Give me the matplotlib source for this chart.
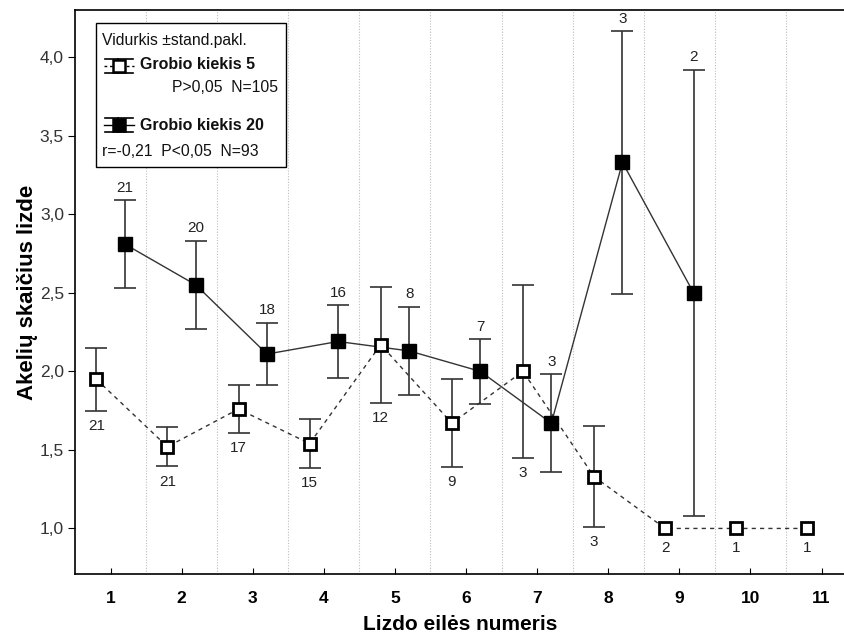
import numpy as np
import matplotlib
matplotlib.use("Agg")
import matplotlib.pyplot as plt
from matplotlib.patches import Rectangle
from matplotlib.lines import Line2D

plt.rcParams["font.family"] = ["Liberation Sans", "DejaVu Sans"]

# nest order numbers
nest = np.arange(1, 12)

# prey amount 5: mean, SD and N per nest position
mean5 = [1.95, 1.52, 1.76, 1.54, 2.17, 1.67, 2.00, 1.33, 1.00, 1.00, 1.00]
sd5 = [0.20, 0.125, 0.15, 0.155, 0.37, 0.28, 0.55, 0.32, 0.0, 0.0, 0.0]
n5 = [21, 21, 17, 15, 12, 9, 3, 3, 2, 1, 1]

# prey amount 20
nest20 = np.arange(1, 10)
mean20 = [2.81, 2.55, 2.11, 2.19, 2.13, 2.00, 1.67, 3.33, 2.50]
sd20 = [0.28, 0.28, 0.20, 0.23, 0.28, 0.205, 0.31, 0.835, 1.42]
n20 = [21, 20, 18, 16, 8, 7, 3, 3, 2]

yticks = [1.0, 1.5, 2.0, 2.5, 3.0, 3.5, 4.0]

W, H = 845, 636
fig = plt.figure(figsize=(W / 100, H / 100), dpi=100)
ax = fig.add_axes([75 / W, 62 / H, 770 / W, 564 / H])

ax.set_xlim(0.5, 11.33)
ax.set_ylim(0.71, 4.30)

for xg in np.arange(1.5, 11, 1.0):
    ax.axvline(xg, color="#bdbdbd", lw=0.8, ls=(0, (1, 1.5)), zorder=0)

ecol = "#333333"
ebar = dict(fmt="none", ecolor=ecol, elinewidth=1.2, capsize=8, capthick=1.2,
            zorder=3.5)
x5 = nest - 0.2
x20 = nest20 + 0.2

# single-nest cells (SD = 0) get no whiskers
m5 = np.array(sd5) > 0
ax.errorbar(x5[m5], np.array(mean5)[m5], yerr=np.array(sd5)[m5], **ebar)
ax.plot(x5, mean5, color="#333333", lw=1, ls=(0, (3, 3)), zorder=3)
ax.plot(x5, mean5, "s", ms=9, mfc="white", mec="black", mew=2, zorder=4)

ax.errorbar(x20, mean20, yerr=sd20, **ebar)
ax.plot(x20, mean20, color="#333333", lw=1, zorder=3)
ax.plot(x20, mean20, "s", ms=9.5, mfc="black", mec="black", mew=1, zorder=4)

# sample sizes: below the open series, above the filled series
for x, m, s, n in zip(x5, mean5, sd5, n5):
    off = -11 if s > 0 else -14
    ax.annotate(str(n), (x, m - s), xytext=(0, off), textcoords="offset points",
                ha="center", va="center", fontsize=11, color="#222222")
for x, m, s, n in zip(x20, mean20, sd20, n20):
    ax.annotate(str(n), (x, m + s), xytext=(0, 9), textcoords="offset points",
                ha="center", va="center", fontsize=11, color="#222222")

ax.set_xticks(nest)
ax.set_xticklabels([str(v) for v in nest], fontsize=12.5, fontweight="bold")
ax.set_yticks(yticks)
ax.set_yticklabels([f"{v:.1f}".replace(".", ",") for v in yticks],
                   fontsize=12.5, color="#333333")
ax.tick_params(axis="x", direction="in", length=4, pad=12)
ax.tick_params(axis="y", direction="out", length=5, pad=3)

for side in ("left", "bottom", "top"):
    ax.spines[side].set_linewidth(1.2)
ax.spines["right"].set_visible(False)

ax.set_xlabel("Lizdo eilės numeris", fontsize=15, fontweight="bold", labelpad=7)
ax.set_ylabel("Akelių skaičius lizde", fontsize=16, fontweight="bold",
              labelpad=1)


# legend box, laid out in pixel units of the axes
def px(x, y):
    return ((x - 75) / 770, (574 - y) / 564)


box_x0, box_y0 = px(96, 167)
box_x1, box_y1 = px(286, 23)
ax.add_patch(Rectangle((box_x0, box_y0), box_x1 - box_x0, box_y1 - box_y0,
                       transform=ax.transAxes, fill=True, fc="white",
                       ec="black", lw=1, zorder=6))

tk = dict(transform=ax.transAxes, zorder=7, color="#111111")
ax.text(*px(102, 41), "Vidurkis ±stand.pakl.", fontsize=11.3, va="center", **tk)
ax.text(*px(140, 65), "Grobio kiekis 5", fontsize=11.5, fontweight="bold",
        va="center", **tk)
ax.text(*px(278, 88), "P>0,05  N=105", fontsize=11.3, ha="right", va="center", **tk)
ax.text(*px(140, 125), "Grobio kiekis 20", fontsize=11.5, fontweight="bold",
        va="center", **tk)
ax.text(*px(102, 152), "r=-0,21  P<0,05  N=93", fontsize=11.3, va="center", **tk)


def legend_glyph(yc, filled):
    lk = dict(transform=ax.transAxes, zorder=7, color="black", lw=1.2)
    for dy in (-7, 7):
        xa, ya = px(105, yc + dy)
        xb, _ = px(133, yc + dy)
        ax.add_line(Line2D([xa, xb], [ya, ya], **lk))
    xa, ya = px(118, yc - 7)
    _, yb = px(118, yc + 7)
    ax.add_line(Line2D([xa, xa], [ya, yb], **lk))
    xa, ym = px(104, yc)
    xb, _ = px(134, yc)
    ax.add_line(Line2D([xa, xb], [ym, ym], transform=ax.transAxes, zorder=7,
                       color="black", lw=1, ls="-" if filled else (0, (2, 2))))
    xm, ym = px(119, yc)
    ax.add_line(Line2D([xm], [ym], transform=ax.transAxes, zorder=8, marker="s",
                       ms=8, mfc="black" if filled else "white", mec="black",
                       mew=1.8, ls="none"))


legend_glyph(66, False)
legend_glyph(125, True)

fig.savefig("out.png", dpi=100)
